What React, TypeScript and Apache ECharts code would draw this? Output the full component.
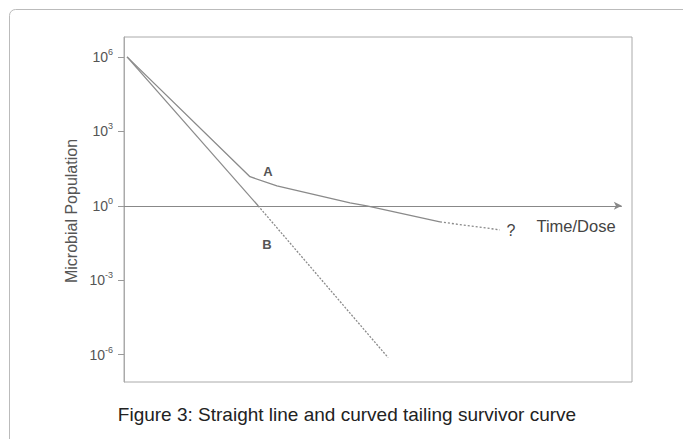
import React, { useEffect, useRef } from "react";
import * as echarts from "echarts";

const yTicks = [-6, -3, 0, 3, 6];
const lineA_solid = [[0.6, 6], [24.8, 1.17], [30.1, 0.8], [44.5, 0.12], [47.8, 0], [62.2, -0.65]];
const lineA_dotted = [[62.2, -0.65], [74.0, -0.97]];
const lineB_solid = [[0.6, 6], [26.4, 0]];
const lineB_dotted = [[26.4, 0], [52.0, -6.12]];
const caption = "Figure 3: Straight line and curved tailing survivor curve";

export default function App() {
  const ref = useRef<HTMLDivElement>(null);
  useEffect(() => {
    const chart = echarts.init(ref.current!, null, { renderer: "svg" });
    const lineColor = "#8a8a8a";
    chart.setOption({
      animation: false,
      backgroundColor: "#fff",
      grid: { left: 124, right: 51, top: 37, bottom: 57, show: true, borderColor: "#aaa", borderWidth: 1 },
      xAxis: {
        type: "value", min: 0, max: 100,
        axisLine: { show: false }, axisTick: { show: false }, axisLabel: { show: false }, splitLine: { show: false },
      },
      yAxis: {
        type: "value", min: -7.1, max: 6.8,
        axisLine: { show: true, lineStyle: { color: "#aaa" } },
        axisTick: { show: true, customValues: yTicks, length: 6, lineStyle: { color: "#999" } },
        splitLine: { show: false },
        axisLabel: {
          customValues: yTicks, margin: 11,
          formatter: (v: number) => `{b|10}{s|${v}}`,
          rich: {
            b: { fontFamily: "Liberation Sans", fontSize: 14, color: "#555" },
            s: { fontFamily: "Liberation Sans", fontSize: 9, color: "#555", verticalAlign: "top", padding: [0, 0, 10, 0] },
          },
        },
      },
      series: [
        { type: "line", data: lineA_solid, symbol: "none", lineStyle: { color: lineColor, width: 1.3 } },
        { type: "line", data: lineA_dotted, symbol: "none", lineStyle: { color: lineColor, width: 1.3, type: [2, 2] } },
        { type: "line", data: lineB_solid, symbol: "none", lineStyle: { color: lineColor, width: 1.3 } },
        {
          type: "line", data: lineB_dotted, symbol: "none", lineStyle: { color: lineColor, width: 1.3, type: [2, 1.5] },
          markLine: {
            silent: true, symbol: ["none", "arrow"], symbolSize: [6, 8],
            label: { show: false },
            lineStyle: { color: "#888", width: 1, type: "solid" },
            data: [[{ coord: [0, 0] }, { coord: [98, 0] }]],
          },
        },
      ],
      graphic: [
        { type: "rect", shape: { x: 9.5, y: 9.5, width: 690, height: 450, r: 6 }, style: { fill: "none", stroke: "#bbb", lineWidth: 1 }, z: -1 },
        { type: "text", x: 71, y: 211, rotation: Math.PI / 2, style: { text: "Microbial Population", font: "16px 'Liberation Sans'", fill: "#555", align: "center", verticalAlign: "middle" } },
        { type: "text", x: 268, y: 171, style: { text: "A", font: "bold 13px 'Liberation Sans'", fill: "#555", align: "center", verticalAlign: "middle" } },
        { type: "text", x: 267, y: 244, style: { text: "B", font: "bold 13px 'Liberation Sans'", fill: "#555", align: "center", verticalAlign: "middle" } },
        { type: "text", x: 511, y: 230, style: { text: "?", font: "16px 'Liberation Sans'", fill: "#444", align: "center", verticalAlign: "middle" } },
        { type: "text", x: 576, y: 226, style: { text: "Time/Dose", font: "16.5px 'Liberation Sans'", fill: "#444", align: "center", verticalAlign: "middle" } },
        { type: "text", x: 347, y: 414, style: { text: caption, font: "19px 'Liberation Sans'", fill: "#222", align: "center", verticalAlign: "middle" } },
      ],
    });
    return () => chart.dispose();
  }, []);
  return <div ref={ref} style={{ width: 683, height: 439, position: "absolute", left: 0, top: 0 }} />;
}
